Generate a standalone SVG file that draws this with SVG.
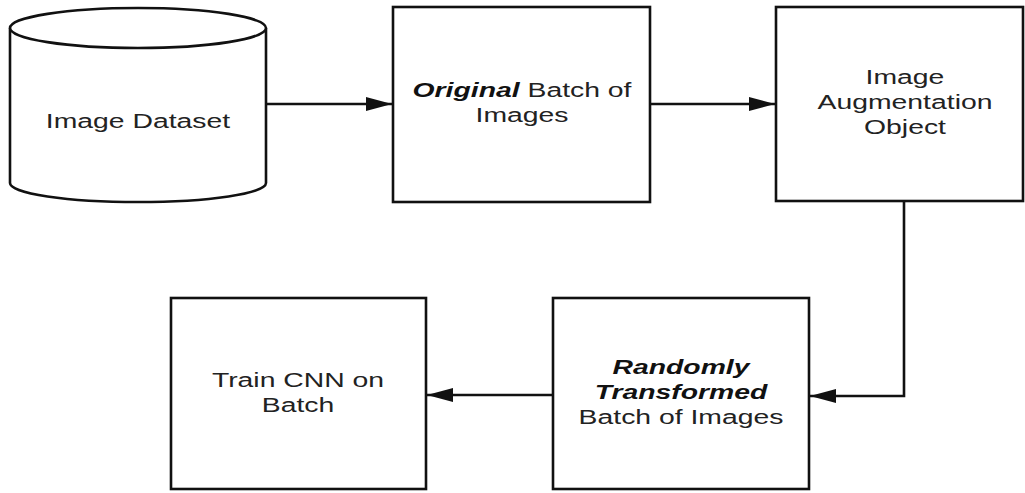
<svg xmlns="http://www.w3.org/2000/svg" width="1025" height="493" viewBox="0 0 1025 493">
<style>
.shape{fill:#fff;stroke:#111;stroke-width:2.6}
.lbl{font-family:"Liberation Sans",Arial,sans-serif;font-size:21px;fill:#222;text-anchor:middle}
.bi{font-weight:bold;font-style:italic;fill:#111}
.conn{fill:none;stroke:#111;stroke-width:2.6}
</style>
<defs>
<marker id="arr" markerUnits="userSpaceOnUse" markerWidth="28" markerHeight="16" refX="27" refY="8" orient="auto">
<path d="M1,1 L27,8 L1,15 Z" fill="#111"/>
</marker>
</defs>
<rect width="1025" height="493" fill="#fff"/>
<g id="dataset">
<path class="shape" d="M10,28 L10,183 A128,19 0 0 0 266,183 L266,28"/>
<ellipse class="shape" cx="138" cy="28" rx="128" ry="20"/>
<text class="lbl" transform="matrix(1.35 0 0 1 138 128)">Image Dataset</text>
</g>
<g id="original">
<rect class="shape" x="393" y="7" width="257" height="195"/>
<text class="lbl" transform="matrix(1.35 0 0 1 522 97)"><tspan class="bi">Original</tspan> Batch of</text>
<text class="lbl" transform="matrix(1.35 0 0 1 522 122)">Images</text>
</g>
<g id="augment">
<rect class="shape" x="776" y="7" width="247" height="194"/>
<text class="lbl" transform="matrix(1.35 0 0 1 905 84)">Image</text>
<text class="lbl" transform="matrix(1.35 0 0 1 905 109)">Augmentation</text>
<text class="lbl" transform="matrix(1.35 0 0 1 905 134)">Object</text>
</g>
<g id="randomly">
<rect class="shape" x="553" y="298" width="256" height="191"/>
<text class="lbl bi" transform="matrix(1.35 0 0 1 681 374)">Randomly</text>
<text class="lbl bi" transform="matrix(1.35 0 0 1 681 399)">Transformed</text>
<text class="lbl" transform="matrix(1.35 0 0 1 681 424)">Batch of Images</text>
</g>
<g id="train">
<rect class="shape" x="171" y="298" width="255" height="191"/>
<text class="lbl" transform="matrix(1.35 0 0 1 298 387)">Train CNN on</text>
<text class="lbl" transform="matrix(1.35 0 0 1 298 412)">Batch</text>
</g>
<g id="connectors">
<path class="conn" d="M266,104 L392,104" marker-end="url(#arr)"/>
<path class="conn" d="M650,104 L775,104" marker-end="url(#arr)"/>
<path class="conn" d="M904,201 L904,396 L810,396" marker-end="url(#arr)"/>
<path class="conn" d="M553,395 L427,395" marker-end="url(#arr)"/>
</g>
</svg>
